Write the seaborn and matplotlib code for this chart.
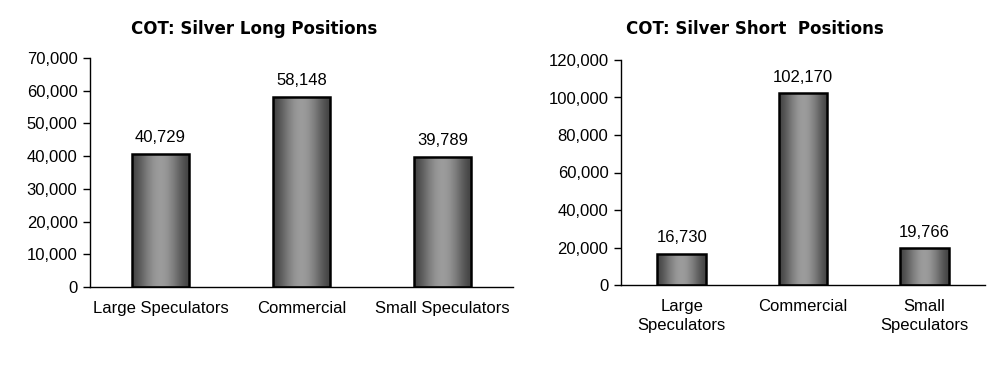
import seaborn as sns
import matplotlib.pyplot as plt
import numpy as np

# COT silver positions
cats_long = ["Large Speculators", "Commercial", "Small Speculators"]
long_vals = [40729, 58148, 39789]
cats_short = ["Large\nSpeculators", "Commercial", "Small\nSpeculators"]
short_vals = [16730, 102170, 19766]

sns.set_theme(style="white")
plt.rcParams['font.family'] = ['Liberation Sans', 'DejaVu Sans']
plt.rcParams['text.color'] = 'black'
plt.rcParams['xtick.color'] = 'black'
plt.rcParams['ytick.color'] = 'black'
plt.rcParams['xtick.labelcolor'] = 'black'
plt.rcParams['ytick.labelcolor'] = 'black'

fig = plt.figure(figsize=(10.08, 3.82), dpi=100)
ax1 = fig.add_axes([90/1008, 1-287/382, 423/1008, 229/382])
ax2 = fig.add_axes([621/1008, 1-285/382, 364/1008, 225/382])

# horizontal shading: dark edges, light middle
g = np.linspace(-1, 1, 200)
shade = 0.27 + 0.34 * np.cos(g * np.pi / 2) ** 1.5
grad = np.tile(shade, (2, 1))


def draw(ax, cats, vals, ymax, step):
    sns.barplot(x=cats, y=vals, ax=ax, width=0.4, color="gray",
                edgecolor="black", linewidth=1.8, saturation=1)
    for p in ax.patches:
        x0, y0 = p.get_x(), p.get_y()
        im = ax.imshow(grad, cmap="gray", vmin=0, vmax=1, aspect="auto",
                       extent=[x0, x0 + p.get_width(), y0, y0 + p.get_height()],
                       zorder=p.get_zorder() + 0.1)
        im.set_clip_path(p)
        p.set_facecolor("none")
        p.set_zorder(p.get_zorder() + 0.2)
    ax.bar_label(ax.containers[0], labels=[f"{v:,}" for v in vals],
                 padding=6, fontsize=12, color="black")
    ax.set_xlim(-0.5, 2.5)
    ax.set_ylim(0, ymax)
    ax.set_yticks(np.arange(0, ymax + 1, step))
    ax.set_yticklabels([f"{int(t):,}" for t in np.arange(0, ymax + 1, step)], fontsize=12)
    ax.set_xticks(range(3))
    ax.set_xticklabels(cats, fontsize=12, linespacing=1.35)
    ax.tick_params(axis="x", which="major", length=0, pad=10)
    ax.set_xticks([-0.5, 0.5, 1.5, 2.5], minor=True)
    ax.tick_params(axis="x", which="minor", length=5, width=1, color="black", direction="out")
    ax.tick_params(axis="y", length=5, width=1, color="black", direction="out", left=True, pad=4)
    for s in ["top", "right"]:
        ax.spines[s].set_visible(False)
    for s in ["left", "bottom"]:
        ax.spines[s].set_color("black")
        ax.spines[s].set_linewidth(1)


draw(ax1, cats_long, long_vals, 70000, 10000)
draw(ax2, cats_short, short_vals, 120000, 20000)

fig.text(254/1008, 1-29/382, "COT: Silver Long Positions", ha="center", va="center",
         fontsize=12, fontweight="bold", family="DejaVu Sans")
fig.text(755/1008, 1-29/382, "COT: Silver Short  Positions", ha="center", va="center",
         fontsize=12, fontweight="bold", family="DejaVu Sans")

fig.savefig("out.png", dpi=100)
